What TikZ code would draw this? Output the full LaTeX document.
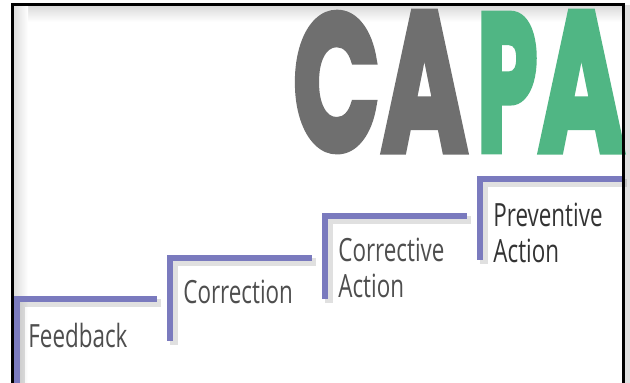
\documentclass[tikz,border=0pt]{standalone}
\usepackage{fontspec}
\usepackage{graphicx}
\usepackage{xcolor}
\usetikzlibrary{positioning}
\newfontfamily\stepfont{Open Sans}[FakeStretch=0.7]
\newfontfamily\capafont{Poppins}[FakeBold=4]
\definecolor{stair}{RGB}{122,122,190}
\definecolor{capagray}{RGB}{111,111,111}
\definecolor{capagreen}{RGB}{80,182,132}
\definecolor{labelgray}{RGB}{78,78,78}

\begin{document}
\begin{tikzpicture}[x=0.5pt,y=-0.5pt,
  stairline/.style={draw=stair,line width=2.8pt},
  stairshade/.style={draw=black,opacity=0.12,line width=3.6pt},
  steplabel/.style={inner sep=0pt,anchor=north west,align=left,text=labelgray,
    font=\stepfont\fontsize{16}{18}\selectfont},
  letter/.style={inner sep=0pt,anchor=south west}]
\clip (0,0) rectangle (630,383);
\fill[white] (0,0) rectangle (630,383);
\fill[black!12] (625,5) rectangle (630,383);
% soft inner shadow of the frame
\shade[top color=black!14,bottom color=white] (13,6) rectangle (622,22);
\shade[left color=black!14,right color=white] (13,6) rectangle (28,383);

% CAPA
\node[letter,text=capagray] (capaC) at (293,151) {\resizebox{43pt}{68pt}{\capafont\bfseries C}};
\node[letter,text=capagray] (capaA) at (381,151) {\resizebox{43pt}{69pt}{\capafont\bfseries A}};
\node[letter,text=capagreen] (capaP) at (477,151) {\resizebox{30pt}{68pt}{\capafont\bfseries P}};
\node[letter,text=capagreen] (capaA2) at (538,151) {\resizebox{43pt}{69pt}{\capafont\bfseries A}};

% stairs
\draw[stairshade] (21,400) -- (21,303) -- (161,303);
\draw[stairshade] (174,345) -- (174,262) -- (316,262);
\draw[stairshade] (329,303) -- (329,220) -- (471,220);
\draw[stairshade] (484,264) -- (484,183) -- (627,183);
\draw[stairline] (17,400) -- (17,299) -- (157,299);
\draw[stairline] (170,341) -- (170,258) -- (312,258);
\draw[stairline] (325,299) -- (325,216) -- (467,216);
\draw[stairline] (480,260) -- (480,179) -- (625,179);

% labels
\node[steplabel] (fb) at (28,323) {Feedback};
\node[steplabel] (corr) at (183,280) {Correction};
\node[steplabel] (corract) at (338,238) {Corrective\\Action};
\node[steplabel,text=black!80] (prevact) at (493,203) {Preventive\\Action};

% frame
\draw[line width=1.5pt] (12,5) rectangle (623,420);
\end{tikzpicture}
\end{document}
